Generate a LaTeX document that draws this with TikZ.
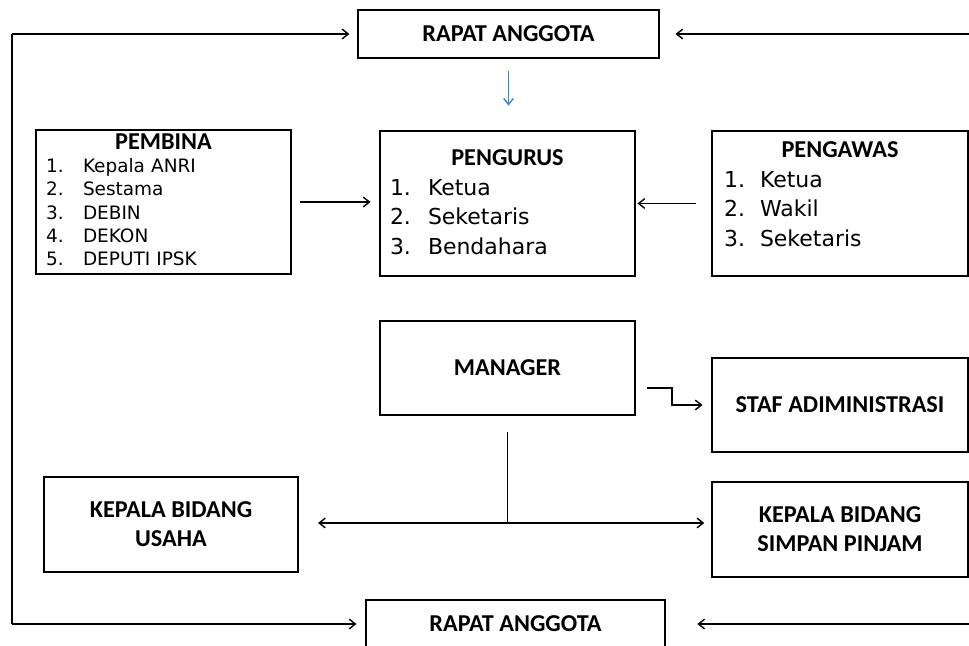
\documentclass[tikz,border=0pt]{standalone}
\usepackage{fontspec}
\setmainfont{Carlito}
\newfontfamily\listfont{DejaVu Sans}
\usetikzlibrary{arrows.meta, positioning, calc}

\newcommand\itm[3][0.74cm]{\makebox[#1][l]{#2}#3}
\newcommand\ttl[1]{\makebox[\hsize]{\rmfamily\bfseries\fontsize{13.8}{16}\selectfont #1}}

\begin{document}
\begin{tikzpicture}[x=0.02cm, y=-0.02cm,
    box/.style={draw, line width=0.8pt, minimum width=5.1cm, minimum height=1.88cm, font=\bfseries\fontsize{13.8}{16.5}\selectfont, align=center},
    listbox/.style={draw, line width=0.8pt, inner ysep=0pt, inner xsep=0.2cm, align=left},
    arr/.style={line width=0.8pt, -{Straight Barb[length=3.5pt, width=5.5pt]}},
    bluearr/.style={arr, draw={rgb,255:red,79;green,129;blue,189}},
    link/.style={line width=0.8pt},
]
    \useasboundingbox (0,0) rectangle (969,645);
    \clip (0,0) rectangle (969,645);

    \node[box, minimum width=6.02cm, minimum height=0.96cm] (rapat1) at (508.5,34) {RAPAT ANGGOTA};
    \node[box, minimum width=5.98cm, minimum height=0.96cm] (rapat2) at (515.5,624) {RAPAT ANGGOTA};

    \node[listbox, text width=4.7cm, text height=0.38cm, text depth=2.5cm,
          font=\listfont\fontsize{10.5}{13.3}\selectfont] (pembina) at (163.5,202) {
        \ttl{PEMBINA}\\
        \itm{1.}{Kepala ANRI}\\
        \itm{2.}{Sestama}\\
        \itm{3.}{DEBIN}\\
        \itm{4.}{DEKON}\\
        \itm{5.}{DEPUTI IPSK}
    };

    \node[listbox, text width=4.7cm, text height=0.69cm, text depth=2.21cm,
          font=\listfont\fontsize{12.5}{16.8}\selectfont] (pengurus) at (507.5,203.5) {
        \ttl{PENGURUS}\\
        \itm[0.76cm]{1.}{Ketua}\\
        \itm[0.76cm]{2.}{Seketaris}\\
        \itm[0.76cm]{3.}{Bendahara}
    };

    \node[listbox, inner xsep=0.24cm, text width=4.64cm, text height=0.53cm, text depth=2.37cm,
          font=\listfont\fontsize{12.5}{16.8}\selectfont] (pengawas) at (840,203.5) {
        \ttl{PENGAWAS}\\
        \itm[0.72cm]{1.}{Ketua}\\
        \itm[0.72cm]{2.}{Wakil}\\
        \itm[0.72cm]{3.}{Seketaris}
    };

    \node[box] (manager) at (507.5,368) {MANAGER};
    \node[box, minimum width=5.12cm] (staf) at (840,405) {STAF ADIMINISTRASI};
    \node[box, minimum width=5.08cm, minimum height=1.9cm] (usaha) at (171,524.5) {KEPALA BIDANG\\USAHA};
    \node[box, minimum width=5.12cm, minimum height=1.9cm] (simpan) at (840,529.5) {KEPALA BIDANG\\SIMPAN PINJAM};

    \coordinate (loopT) at (12,34);
    \coordinate (loopB) at (12,624);
    \coordinate (rightT) at (969,34);
    \coordinate (rightB) at (969,624);
    \coordinate (mgrOut) at (647,388);
    \coordinate (split) at (507.5,523);

    \draw[link] (loopT) -- (loopB);
    \draw[arr, shorten >=4.5pt] (loopT) -- (rapat1.west);
    \draw[arr, shorten >=5pt] (loopB) -- (rapat2.west);
    \draw[arr, shorten >=9pt] (rightT) -- (rapat1.east);
    \draw[arr, shorten >=18pt] (rightB) -- (rapat2.east);

    \draw[bluearr, shorten <=6.8pt, shorten >=14pt] (rapat1.south) -- (rapat1.south |- pengurus.north);
    \draw[arr, shorten <=4.5pt, shorten >=5pt] (pembina.east) -- (pembina.east -| pengurus.west);
    \draw[arr, shorten <=8.5pt, shorten >=1pt] (pengawas.west) -- (pengurus.east);

    \draw[arr, shorten >=5pt] (mgrOut) -- ++(25,0) |- (staf.west);
    \draw[link, shorten <=9pt] (manager.south) -- (split);
    \draw[arr, shorten >=11pt] (split) -- (split -| usaha.east);
    \draw[arr, shorten >=4pt] (split) -- (split -| simpan.west);
\end{tikzpicture}
\end{document}
